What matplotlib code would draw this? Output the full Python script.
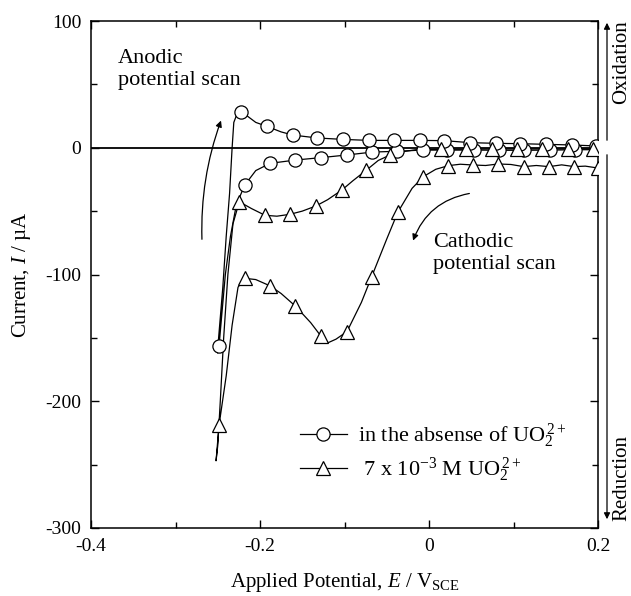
import matplotlib
matplotlib.use("Agg")
import matplotlib.pyplot as plt
from matplotlib.lines import Line2D
from matplotlib.patches import FancyArrowPatch

plt.rcParams['font.family'] = ['Liberation Serif', 'DejaVu Serif']
plt.rcParams['mathtext.fontset'] = 'custom'
plt.rcParams['mathtext.rm'] = 'Liberation Serif'
plt.rcParams['mathtext.it'] = 'Liberation Serif:italic'

# ---- data: without UO2(2+) (circles), full cycle path ----
circ_E = [0.198, 0.17, 0.14, 0.11, 0.08, 0.05, 0.02, -0.0075, -0.038, -0.067,
          -0.097, -0.128, -0.158, -0.188, -0.205, -0.218, -0.228, -0.235, -0.241,
          -0.245, -0.2485, -0.25,
          -0.249, -0.244, -0.240, -0.236, -0.233, -0.231, -0.227, -0.2225, -0.215,
          -0.205, -0.192, -0.175, -0.161, -0.132, -0.102, -0.071, -0.041, -0.011,
          0.018, 0.049, 0.079, 0.108, 0.138, 0.169, 0.198]
circ_I = [-1.5, -1.6, -1.9, -2.0, -2.0, -1.8, -1.9, -1.8, -2.8, -3.4,
          -5.7, -7.8, -9.7, -12.3, -18.0, -29.4, -45.0, -70.0, -100.0,
          -130.0, -156.6, -162.0,
          -150.0, -110.0, -70.0, -36.0, 0.0, 20.0, 27.0, 28.4, 25.0,
          20.0, 16.9, 12.5, 10.0, 7.7, 6.6, 5.8, 5.8, 5.8,
          5.6, 4.0, 3.5, 3.2, 2.7, 2.2, 1.4]
circ_mk_E = [-0.2485, -0.218, -0.188, -0.158, -0.128, -0.097, -0.067, -0.038, -0.0075,
             0.021, 0.053, 0.083, 0.112, 0.143, 0.173,
             -0.2225, -0.192, -0.161, -0.132, -0.102, -0.071, -0.041, -0.011,
             0.018, 0.049, 0.079, 0.108, 0.138, 0.169, 0.198]
circ_mk_I = [-156.6, -29.4, -12.3, -9.7, -7.8, -5.7, -3.4, -2.8, -1.8,
             -2.0, -2.0, -2.0, -2.0, -2.0, -1.8,
             28.4, 16.9, 10.0, 7.7, 6.6, 5.8, 5.8, 5.8,
             5.6, 4.0, 3.5, 3.2, 2.7, 2.2, 1.4]

# ---- data: 7e-3 M UO2(2+) (triangles), full cycle path ----
tri_E = [0.2, 0.185, 0.172, 0.157, 0.142, 0.127, 0.112, 0.097, 0.082, 0.067, 0.052,
         0.037, 0.023, 0.008, -0.0067, -0.02, -0.037, -0.05, -0.068, -0.08, -0.097,
         -0.11, -0.12, -0.128, -0.14, -0.158, -0.175, -0.188, -0.205, -0.218,
         -0.226, -0.233, -0.24, -0.2485, -0.252,
         -0.25, -0.247, -0.243, -0.238, -0.232, -0.2245, -0.21, -0.194, -0.18,
         -0.1645, -0.15, -0.134, -0.12, -0.103, -0.09, -0.074, -0.06, -0.046,
         -0.03, -0.016, 0.014, 0.044, 0.074, 0.104, 0.134, 0.164, 0.194]
tri_I = [-16.0, -14.5, -14.9, -13.5, -14.9, -14.0, -14.9, -13.2, -12.8, -14.0, -13.6,
         -13.0, -14.1, -17.0, -22.8, -32.0, -51.0, -72.0, -102.0, -122.0, -145.0,
         -151.0, -154.0, -148.5, -138.0, -125.0, -115.0, -109.0, -104.0, -103.0,
         -110.0, -140.0, -180.0, -219.0, -247.0,
         -235.0, -200.0, -150.0, -100.0, -60.0, -42.6, -48.0, -53.3, -54.0,
         -52.5, -50.0, -46.0, -41.0, -33.3, -26.0, -17.6, -10.0, -5.7,
         -3.0, -1.6, -1.2, -1.2, -1.0, -1.0, -1.0, -1.0, -1.0]
tri_mk_E = [-0.2485, -0.2245, -0.194, -0.1645, -0.134, -0.103, -0.074, -0.046,
            0.014, 0.044, 0.074, 0.104, 0.134, 0.164, 0.194,
            -0.218, -0.188, -0.158, -0.128, -0.097, -0.068, -0.037, -0.0067,
            0.023, 0.052, 0.082, 0.112, 0.142, 0.172, 0.2]
tri_mk_I = [-219.0, -42.6, -53.3, -52.5, -46.0, -33.3, -17.6, -5.7,
            -1.2, -1.2, -1.0, -1.0, -1.0, -1.0, -1.0,
            -103.0, -109.0, -125.0, -148.5, -145.0, -102.0, -51.0, -22.8,
            -14.1, -13.6, -12.8, -14.9, -14.9, -14.9, -16.0]

x_major = [-0.4, -0.2, 0.0, 0.2]
x_major_labels = ['-0.4', '-0.2', '0', '0.2']
x_minor = [-0.3, -0.1, 0.1]
y_major = [-300, -200, -100, 0, 100]
y_major_labels = ['-300', '-200', '-100', '0', '100']
y_minor = [-250, -150, -50, 50]

label_circ = 'in the absense of UO$_2^{\\,2+}$'
label_tri = ' 7 x 10$^{-3}$ M UO$_2^{\\,2+}$'

W, H = 631, 596
fig = plt.figure(figsize=(W / 100, H / 100), dpi=100)
ax = fig.add_axes([91 / W, 1 - 528 / H, (598 - 91) / W, (528 - 21) / H])

ax.axhline(0, color='black', lw=1.3, zorder=1)

ax.plot(circ_E, circ_I, color='black', lw=0.9, zorder=2)
ax.plot(tri_E, tri_I, color='black', lw=0.9, zorder=2)
ax.plot(circ_mk_E, circ_mk_I, ls='none', marker='o', ms=9.5, mfc='white',
        mec='black', mew=0.9, zorder=3)
ax.plot(tri_mk_E, tri_mk_I, ls='none', marker='^', ms=10, mfc='white',
        mec='black', mew=0.9, zorder=3)

ax.set_xlim(-0.4, 0.2)
ax.set_ylim(-300, 100)
ax.set_xticks(x_major)
ax.set_xticklabels(x_major_labels)
ax.set_xticks(x_minor, minor=True)
ax.set_yticks(y_major)
ax.set_yticklabels(y_major_labels)
ax.set_yticks(y_minor, minor=True)
ax.tick_params(which='both', direction='in', top=True, right=True, labelsize=14,
               width=1.0)
ax.tick_params(which='major', length=6, pad=7)
ax.tick_params(which='minor', length=4)
for s in ax.spines.values():
    s.set_linewidth(1.1)

ax.set_xlabel('Applied Potential, $E$ / V$_{\\mathrm{SCE}}$', fontsize=15, labelpad=12)
ax.set_ylabel('Current, $I$ / \u00b5A', fontsize=15, labelpad=9)

ax.text(-0.368, 78, 'Anodic\npotential scan', fontsize=16, ha='left', va='top',
        linespacing=1.25)
ax.text(0.005, -67, 'Cathodic\npotential scan', fontsize=16, ha='left', va='top',
        linespacing=1.25)

ax.add_patch(FancyArrowPatch((-0.2686, -74.4), (-0.245, 23.5),
                             connectionstyle='arc3,rad=-0.1', arrowstyle='-|>',
                             mutation_scale=9, color='black', lw=0.9))
ax.add_patch(FancyArrowPatch((0.051, -35.7), (-0.020, -75.3),
                             connectionstyle='arc3,rad=0.3', arrowstyle='-|>',
                             mutation_scale=9, color='black', lw=0.9))

handles = [Line2D([], [], color='black', lw=0.9, marker='o', ms=9.5, mfc='white',
                  mec='black', mew=0.9),
           Line2D([], [], color='black', lw=0.9, marker='^', ms=10, mfc='white',
                  mec='black', mew=0.9)]
ax.legend(handles, [label_circ, label_tri], loc='upper left',
          bbox_to_anchor=((300 - 91) / 507, 1 - (421 - 21) / 507),
          frameon=False, fontsize=16, handlelength=2.1, handletextpad=0.5,
          labelspacing=0.25, borderpad=0, borderaxespad=0)

# Oxidation / Reduction arrows outside right spine
fig.patches.append(FancyArrowPatch((607 / W, 1 - 143 / H), (607 / W, 1 - 20 / H),
                                   transform=fig.transFigure, arrowstyle='-|>',
                                   mutation_scale=9, color='black', lw=0.9))
fig.patches.append(FancyArrowPatch((607 / W, 1 - 152 / H), (607 / W, 1 - 522 / H),
                                   transform=fig.transFigure, arrowstyle='-|>',
                                   mutation_scale=9, color='black', lw=0.9))
fig.text(622 / W, 1 - 62 / H, 'Oxidation', rotation=90, ha='center', va='center',
         fontsize=15)
fig.text(622 / W, 1 - 478 / H, 'Reduction', rotation=90, ha='center', va='center',
         fontsize=15)

fig.savefig('out.png', dpi=100)
